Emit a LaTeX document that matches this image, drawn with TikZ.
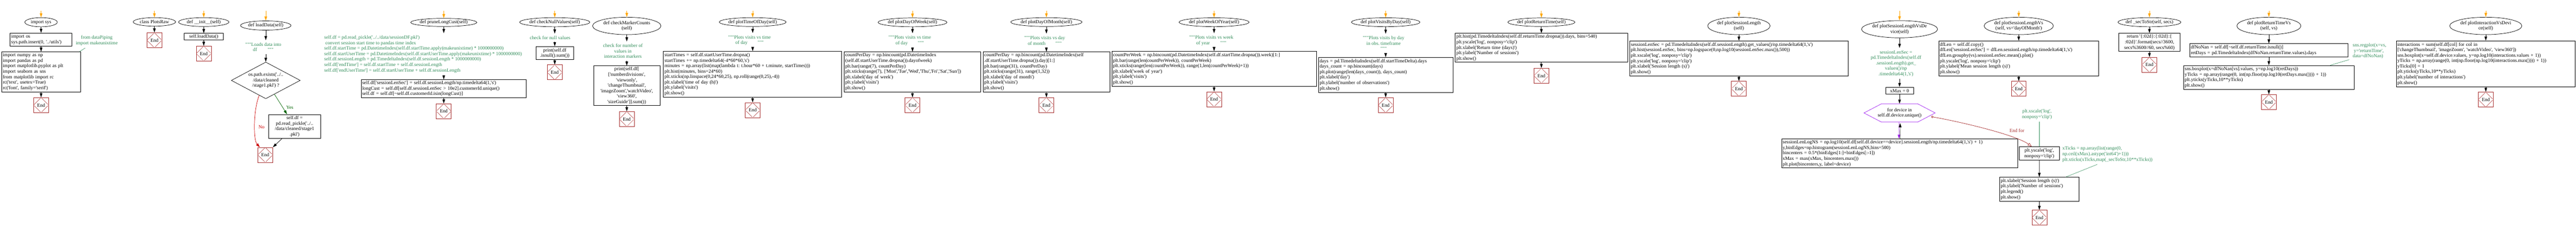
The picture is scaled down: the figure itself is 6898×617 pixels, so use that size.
\documentclass[tikz,border=0pt]{standalone}
\usepackage{fontspec}
\newfontfamily\codefont{Liberation Serif}
\usetikzlibrary{positioning,shapes.geometric,arrows.meta,calc}
\definecolor{notegreen}{RGB}{46,139,87}
\definecolor{endred}{RGB}{165,42,42}
\definecolor{startorange}{RGB}{255,165,0}
\definecolor{yesgreen}{RGB}{0,100,0}
\definecolor{nored}{RGB}{204,0,0}
\definecolor{loopviolet}{RGB}{160,32,240}
\frenchspacing
\tikzset{
  every node/.style={font=\codefont\fontsize{13}{14.6}\selectfont},
  func/.style={draw, ellipse, inner xsep=-14pt, inner ysep=-3pt, align=center},
  codebox/.style={draw, inner xsep=3pt, inner ysep=0pt, align=left},
  midbox/.style={draw, inner sep=0pt, align=center},
  note/.style={text=notegreen, inner xsep=2pt, inner ysep=6pt, align=center},
  endbox/.style={draw=endred, minimum width=40pt, minimum height=40pt, inner sep=0pt,
    path picture={
      \draw[endred, line width=.7pt]
        ($(path picture bounding box.north)!.08!(path picture bounding box.west)$) -- ($(path picture bounding box.north)!.92!(path picture bounding box.west)$)
        ($(path picture bounding box.west)!.08!(path picture bounding box.south)$) -- ($(path picture bounding box.west)!.92!(path picture bounding box.south)$)
        ($(path picture bounding box.south)!.08!(path picture bounding box.east)$) -- ($(path picture bounding box.south)!.92!(path picture bounding box.east)$)
        ($(path picture bounding box.east)!.08!(path picture bounding box.north)$) -- ($(path picture bounding box.east)!.92!(path picture bounding box.north)$);
    }},
  arr/.style={-{Triangle[length=11pt,width=7pt]}},
  startarr/.style={arr, draw=startorange},
  noteline/.style={draw=notegreen, line width=.8pt},
  endfor/.style={{Circle[open,length=6pt,width=6pt]}-{Triangle[open,length=11pt,width=8pt]}, draw=endred}
}
\begin{document}
\begin{tikzpicture}[x=1pt, y=-1pt, line width=1pt]
        \useasboundingbox (0,0) rectangle (6898,617);
        \coordinate (a0) at (110, 29.5);
        \node[func, minimum width=87pt, minimum height=24.4pt] (a1) at (110, 59.4) {import sys};
        \node[codebox, text width=159.3pt, minimum height=34.7pt] (a2) at (110, 105.9) {import os\\sys.path.insert(0, '../utils')};
        \node[codebox, text width=205.3pt, minimum height=106.7pt] (a3) at (110, 192.3) {import numpy as np\\import pandas as pd\\import matplotlib.pyplot as plt\\import seaborn as sns\\from matplotlib import rc\\rc('text', usetex=True)\\rc('font', family='serif')};
        \node[endbox] (a4) at (110, 281.2) {End};
        \node[note] (a5) at (259, 108.6) {from dataPiping\\import makeunixtime};
        \draw[startarr] (a0) -- (a1);
        \draw[arr] (a1) -- (a2);
        \draw[arr] (a2) -- (a3);
        \draw[arr] (a3) -- (a4);
        \draw[noteline] (a5) -- ([xshift=-3.7pt]a3.north east);

        \coordinate (b0) at (413.5, 29.5);
        \node[func, minimum width=113.5pt, minimum height=22.8pt] (b1) at (413.5, 58.6) {class PlotsRaw};
        \node[endbox] (b2) at (413.5, 107.5) {End};
        \draw[startarr] (b0) -- (b1);
        \draw[arr] (b1) -- (b2);

        \coordinate (c0) at (545.6, 29.5);
        \node[func, minimum width=135pt, minimum height=23.6pt] (c1) at (545.6, 59) {def \_\_init\_\_(self)};
        \node[midbox, minimum width=104pt, minimum height=17.7pt] (c2) at (545.6, 98.2) {self.loadData()};
        \node[endbox] (c3) at (545.6, 143.3) {End};
        \draw[startarr] (c0) -- (c1);
        \draw[arr] (c1) -- (c2);
        \draw[arr] (c2) -- (c3);

        \coordinate (d0) at (711.7, 29.5);
        \node[func, minimum width=135.4pt, minimum height=24.8pt] (d1) at (711.7, 68.3) {def loadData(self)};
        \node[note] (d2) at (705, 126) {"""Loads data into\\df\hspace{28pt}"""};
        \node[diamond, draw, aspect=2, minimum width=184.6pt, minimum height=98pt, inner sep=0pt, align=center] (d3) at (711.7, 215.1) {os.path.exists('../..\\/data/cleaned\\/stage1.pkl') ?};
        \node[midbox, minimum width=139.5pt, minimum height=64.1pt] (d4) at (788.8, 338.3) {self.df =\\pd.read\_pickle('../..\\/data/cleaned/stage1\\.pkl')};
        \node[endbox] (d5) at (710.2, 414.4) {End};
        \draw[startarr] (d0) -- (d1);
        \draw[arr] (d1) -- (d1 |- d2.north);
        \draw[arr] (d1 |- d2.south) -- (d3);
        \draw[arr, yesgreen] ($(d3.south)!.25!(d3.east)$) -- node[pos=.65, right=6pt, text=yesgreen] {Yes} ([xshift=-20.2pt]d4.north);
        \draw[arr, nored] ($(d3.west)!.81!(d3.south)$) .. controls (678, 295) and (678, 375) .. node[pos=.55, right=6pt, text=nored] {No} ([xshift=-14.4pt]d5.north);
        \draw[arr] ([xshift=-33.8pt]d4.south) -- (d5.north east);

        \coordinate (e0) at (1188.3, 29.5);
        \node[func, minimum width=177pt, minimum height=21.6pt] (e1) at (1188.3, 60) {def pruneLongCust(self)};
        \node[note, align=left, anchor=west] (e2) at (865.8, 145) {self.df = pd.read\_pickle('../../data/sessionDF.pkl')\\\hspace*{3pt}convert session start time to pandas time index\\self.df.startTime = pd.DatetimeIndex(self.df.startTime.apply(makeunixtime) * 1000000000)\\self.df.startUserTime = pd.DatetimeIndex(self.df.startUserTime.apply(makeunixtime) * 1000000000)\\self.df.sessionLength = pd.TimedeltaIndex(self.df.sessionLength * 1000000000)\\self.df['endTime'] = self.df.startTime + self.df.sessionLength\\self.df['endUserTime'] = self.df.startUserTime + self.df.sessionLength};
        \node[codebox, text width=436.7pt, minimum height=47.6pt] (e3) at (1188.3, 237.1) {self.df['sessionLenSec'] = self.df.sessionLength/np.timedelta64(1,'s')\\longCust = self.df[self.df.sessionLenSec > 10e2].customerId.unique()\\self.df = self.df[\textasciitilde self.df.customerId.isin(longCust)]};
        \node[endbox] (e4) at (1188.3, 297.5) {End};
        \draw[startarr] (e0) -- (e1);
        \draw[arr] (e1) -- (e1 |- e2.north);
        \draw[arr] (e1 |- e2.south) -- (e3);
        \draw[arr] (e3) -- (e4);

        \coordinate (f0) at (1485.5, 29.5);
        \node[func, minimum width=188pt, minimum height=24.4pt] (f1) at (1485.5, 59.4) {def checkNullValues(self)};
        \node[note] (f2) at (1473, 101.1) {check for null values};
        \node[midbox, minimum width=101.4pt, minimum height=35.4pt] (f3) at (1485.5, 142.1) {print(self.df\\.isnull().sum())};
        \node[endbox] (f4) at (1485.5, 193.6) {End};
        \draw[startarr] (f0) -- (f1);
        \draw[arr] (f1) -- (f1 |- f2.north);
        \draw[arr] (f1 |- f2.south) -- (f3);
        \draw[arr] (f3) -- (f4);

        \coordinate (g0) at (1678.4, 29.5);
        \node[func, minimum width=183pt, minimum height=46.5pt] (g1) at (1678.4, 69.3) {def checkMarkerCounts\\(self)};
        \node[note] (g2) at (1668, 136.6) {check for number of\\values in\\interaction markers};
        \node[midbox, minimum width=178.3pt, minimum height=106.3pt] (g3) at (1678.4, 229.4) {print(self.df[\\{}['numberdivisions',\\'viewonly',\\'changeThumbnail',\\'imageZoom','watchVideo',\\'view360',\\'sizeGuide']].sum())};
        \node[endbox] (g4) at (1678.4, 318.4) {End};
        \draw[startarr] (g0) -- (g1);
        \draw[arr] (g1) -- (g1 |- g2.north);
        \draw[arr] (g1 |- g2.south) -- (g3);
        \draw[arr] (g3) -- (g4);

        \coordinate (h0) at (2015.5, 29.5);
        \node[func, minimum width=179pt, minimum height=23.6pt] (h1) at (2015.5, 59) {def plotTimeOfDay(self)};
        \node[note] (h2) at (2007, 108.2) {"""Plots visits vs time\\of day\hspace{27pt}"""};
        \node[codebox, text width=471.2pt, minimum height=123.2pt] (h3) at (2015.1, 198.9) {startTimes = self.df.startUserTime.dropna()\\startTimes += np.timedelta64(-4*60*60,'s')\\minutes = np.array(list(map(lambda t: t.hour*60 + t.minute, startTimes)))\\plt.hist(minutes, bins=24*60)\\plt.xticks(np.linspace(0,24*60,25), np.roll(range(0,25),-4))\\plt.xlabel('time of day (h)')\\plt.ylabel('visits')\\plt.show()};
        \node[endbox] (h4) at (2015.5, 294.6) {End};
        \draw[startarr] (h0) -- (h1);
        \draw[arr] (h1) -- (h1 |- h2.north);
        \draw[arr] (h1 |- h2.south) -- (h3);
        \draw[arr] (h3) -- (h4);

        \coordinate (i0) at (2443.5, 29.5);
        \node[func, minimum width=184.5pt, minimum height=23.6pt] (i1) at (2443.5, 59.8) {def plotDayOfWeek(self)};
        \node[note] (i2) at (2436, 108.6) {"""Plots visits vs time\\of day\hspace{27pt}"""};
        \node[codebox, text width=359pt, minimum height=106.7pt] (i3) at (2443.1, 192.3) {countPerDay = np.bincount(pd.DatetimeIndex\\(self.df.startUserTime.dropna()).dayofweek)\\plt.bar(range(7), countPerDay)\\plt.xticks(range(7), ['Mon','Tue','Wed','Thu','Fri','Sat','Sun'])\\plt.xlabel('day of week')\\plt.ylabel('visits')\\plt.show()};
        \node[endbox] (i4) at (2443.5, 281.2) {End};
        \draw[startarr] (i0) -- (i1);
        \draw[arr] (i1) -- (i1 |- i2.north);
        \draw[arr] (i1 |- i2.south) -- (i3);
        \draw[arr] (i3) -- (i4);

        \coordinate (j0) at (2802, 29.5);
        \node[func, minimum width=191pt, minimum height=23.6pt] (j1) at (2802, 59) {def plotDayOfMonth(self)};
        \node[note] (j2) at (2797.4, 108.6) {"""Plots visits vs day\\of month\hspace{27pt}"""};
        \node[codebox, text width=333.3pt, minimum height=106.7pt] (j3) at (2802.2, 192.3) {countPerDay = np.bincount(pd.DatetimeIndex(self\\.df.startUserTime.dropna()).day)[1:]\\plt.bar(range(31), countPerDay)\\plt.xticks(range(31), range(1,32))\\plt.xlabel('day of month')\\plt.ylabel('visits')\\plt.show()};
        \node[endbox] (j4) at (2802, 281.2) {End};
        \draw[startarr] (j0) -- (j1);
        \draw[arr] (j1) -- (j1 |- j2.north);
        \draw[arr] (j1 |- j2.south) -- (j3);
        \draw[arr] (j3) -- (j4);

        \coordinate (k0) at (3251, 29.5);
        \node[func, minimum width=187.5pt, minimum height=23.7pt] (k1) at (3251, 59.4) {def plotWeekOfYear(self)};
        \node[note] (k2) at (3243.5, 108.6) {"""Plots visits vs week\\of year\hspace{28pt}"""};
        \node[codebox, text width=541.1pt, minimum height=94.1pt] (k3) at (3251.2, 184.4) {countPerWeek = np.bincount(pd.DatetimeIndex(self.df.startTime.dropna()).week)[1:]\\plt.bar(range(len(countPerWeek)), countPerWeek)\\plt.xticks(range(len(countPerWeek)), range(1,len(countPerWeek)+1))\\plt.xlabel('week of year')\\plt.ylabel('visits')\\plt.show()};
        \node[endbox] (k4) at (3251, 265.5) {End};
        \draw[startarr] (k0) -- (k1);
        \draw[arr] (k1) -- (k1 |- k2.north);
        \draw[arr] (k1 |- k2.south) -- (k3);
        \draw[arr] (k3) -- (k4);

        \coordinate (l0) at (3710.5, 29.5);
        \node[func, minimum width=183.6pt, minimum height=23.7pt] (l1) at (3710.5, 59.4) {def plotVisitsByDay(self)};
        \node[note] (l2) at (3705, 116) {"""Plots visits by day\\in obs. timeframe\\"""};
        \node[codebox, text width=354pt, minimum height=94pt] (l3) at (3710.5, 200.5) {days = pd.TimedeltaIndex(self.df.startTimeDelta).days\\days\_count = np.bincount(days)\\plt.plot(range(len(days\_count)), days\_count)\\plt.xlabel('day')\\plt.ylabel('number of observations')\\plt.show()};
        \node[endbox] (l4) at (3710.5, 281.2) {End};
        \draw[startarr] (l0) -- (l1);
        \draw[arr] (l1) -- (l1 |- l2.north);
        \draw[arr] (l1 |- l2.south) -- (l3);
        \draw[arr] (l3) -- (l4);

        \coordinate (m0) at (4127.5, 29.5);
        \node[func, minimum width=179.8pt, minimum height=22.8pt] (m1) at (4127.5, 59.4) {def plotReturnTime(self)};
        \node[codebox, text width=455.4pt, minimum height=77.2pt] (m2) at (4127.5, 127.9) {plt.hist(pd.TimedeltaIndex(self.df.returnTime.dropna()).days, bins=540)\\plt.yscale('log', nonposy='clip')\\plt.xlabel('Return time (days)')\\plt.ylabel('Number of sessions')\\plt.show()};
        \node[endbox] (m3) at (4127.5, 202.5) {End};
        \draw[startarr] (m0) -- (m1);
        \draw[arr] (m1) -- (m2);
        \draw[arr] (m2) -- (m3);

        \coordinate (n0) at (4656.4, 29.5);
        \node[func, minimum width=167pt, minimum height=46.5pt] (n1) at (4656.4, 69.3) {def plotSessionLength\\(self)};
        \node[codebox, text width=578.3pt, minimum height=94.1pt] (n2) at (4656.4, 156.5) {sessionLenSec = pd.TimedeltaIndex(self.df.sessionLength).get\_values()/np.timedelta64(1,'s')\\plt.hist(sessionLenSec, bins=np.logspace(0,np.log10(sessionLenSec.max()),500))\\plt.xscale('log', nonposy='clip')\\plt.yscale('log', nonposy='clip')\\plt.xlabel('Session length (s)')\\plt.show()};
        \node[endbox] (n3) at (4656.4, 237.5) {End};
        \draw[startarr] (n0) -- (n1);
        \draw[arr] (n1) -- (n2);
        \draw[arr] (n2) -- (n3);

        \coordinate (o0) at (5086.6, 29.5);
        \node[func, minimum width=203.6pt, minimum height=46pt] (o1) at (5086.6, 78.1) {def plotSessionLengthVsDe\\vice(self)};
        \node[note] (o2) at (5077, 169.8) {sessionLenSec =\\pd.TimedeltaIndex(self.df\\.sessionLength).get\_\\values()/np\\.timedelta64(1,'s')};
        \node[midbox, minimum width=74.6pt, minimum height=18.9pt] (o3) at (5086.6, 242.8) {xMax = 0};
        \node[minimum width=189.8pt, minimum height=48.1pt, inner sep=0pt, align=center] (o4) at (5086.6, 302.2) {for device in\\self.df.device.unique()};
        \node[codebox, text width=626pt, minimum height=77.5pt] (o5) at (5086.5, 410.7) {sessionLenLogNS = np.log10(self.df[self.df.device==device].sessionLength/np.timedelta64(1,'s') + 1)\\y,binEdges=np.histogram(sessionLenLogNS,bins=500)\\bincenters = 0.5*(binEdges[1:]+binEdges[:-1])\\xMax = max(xMax, bincenters.max())\\plt.plot(bincenters,y, label=device)};
        \node[note] (o6) at (5454.5, 305.6) {plt.xscale('log',\\nonposy='clip')};
        \node[midbox, minimum width=107.2pt, minimum height=35.8pt] (o7) at (5460.7, 410.7) {plt.yscale('log',\\nonposy='clip')};
        \node[note, align=left, anchor=west] (o8) at (5520.1, 412.8) {xTicks = np.array(list(range(0,\\np.ceil(xMax).astype('int64')+1)))\\plt.xticks(xTicks,map(\_secToStr,10**xTicks))};
        \node[codebox, text width=207.2pt, minimum height=64.2pt] (o9) at (5460.9, 506.3) {plt.xlabel('Session length (s)')\\plt.ylabel('Number of sessions')\\plt.legend()\\plt.show()};
        \node[endbox] (o10) at (5460.9, 582.5) {End};
        \draw[loopviolet] (o4.west) -- ([xshift=47.1pt]o4.north west) -- ([xshift=-47.1pt]o4.north east) -- (o4.east) -- ([xshift=-47.1pt]o4.south east) -- ([xshift=47.1pt]o4.south west) -- cycle;
        \draw[startarr] (o0) -- (o1);
        \draw[arr] (o1) -- (o1 |- o2.north);
        \draw[arr] (o1 |- o2.south) -- (o3);
        \draw[arr] (o3) -- (o4);
        \draw[arr, loopviolet] ([xshift=-1.5pt]o4.south) -- ([xshift=-1.5pt]o5.north);
        \draw[arr] ([xshift=1.5pt]o5.north) -- ([xshift=1.5pt, yshift=-2.7pt]o4.south);
        \draw[endfor] ([xshift=-10.7pt, yshift=-9.9pt]o4.east) .. controls (5260, 328) and (5400, 362) .. node[pos=.78, above=14pt, text=endred] {End for} ([xshift=-20pt]o7.north);
        \draw[noteline] (o7 |- o6.south) -- (o7);
        \draw[arr] (o7) -- (o9);
        \draw[noteline] ([xshift=-27pt]o8.south) -- ([xshift=-36.5pt]o9.north east);
        \draw[arr] (o9) -- (o10);

        \coordinate (p0) at (5405.7, 29.5);
        \node[func, minimum width=185.3pt, minimum height=46.5pt] (p1) at (5405.7, 69.3) {def plotSessionLengthVs\\(self, vs='dayOfMonth')};
        \node[codebox, text width=423pt, minimum height=94.1pt] (p2) at (5405.7, 156.5) {dfLen = self.df.copy()\\dfLen['sessionLenSec'] = dfLen.sessionLength/np.timedelta64(1,'s')\\dfLen.groupby(vs).sessionLenSec.mean().plot()\\plt.yscale('log', nonposy='clip')\\plt.ylabel('Mean session length (s)')\\plt.show()};
        \node[endbox] (p3) at (5405.7, 237.5) {End};
        \draw[startarr] (p0) -- (p1);
        \draw[arr] (p1) -- (p2);
        \draw[arr] (p2) -- (p3);

        \coordinate (q0) at (5755.7, 29.5);
        \node[func, minimum width=168.6pt, minimum height=24.4pt] (q1) at (5755.7, 59.4) {def \_secToStr(self, secs)};
        \node[midbox, minimum width=165pt, minimum height=48.4pt] (q2) at (5755.7, 113.5) {return '\{:02d\}:\{:02d\}:\{\\:02d\}'.format(secs//3600,\\secs\%3600//60, secs\%60)};
        \node[endbox] (q3) at (5755.7, 173.5) {End};
        \draw[startarr] (q0) -- (q1);
        \draw[arr] (q1) -- (q2);
        \draw[arr] (q2) -- (q3);

        \coordinate (r0) at (6075.5, 29.5);
        \node[func, minimum width=171.4pt, minimum height=46.5pt] (r1) at (6075.5, 69.3) {def plotReturnTimeVs\\(self, vs)};
        \node[codebox, text width=418.3pt, minimum height=35.8pt] (r2) at (6075.5, 134.8) {dfNoNan = self.df[\textasciitilde self.df.returnTime.isnull()]\\retDays = pd.TimedeltaIndex(dfNoNan.returnTime.values).days};
        \node[codebox, text width=450.5pt, minimum height=64.2pt] (r3) at (6075.5, 207.2) {sns.boxplot(x=dfNoNan[vs].values, y=np.log10(retDays))\\yTicks = np.array(range(0, int(np.floor(np.log10(retDays.max()))) + 1))\\plt.yticks(yTicks,10**yTicks)\\plt.show()};
        \node[endbox] (r4) at (6075.5, 273.1) {End};
        \node[note, align=left, anchor=west] (r5) at (6297.6, 136.6) {sns.regplot(x=vs,\\\hspace*{3pt}y='returnTime',\\data=dfNoNan)};
        \draw[startarr] (r0) -- (r1);
        \draw[arr] (r1) -- (r2);
        \draw[arr] (r2) -- (r3);
        \draw[arr] (r3) -- (r4);
        \draw[noteline] ([xshift=-7pt, yshift=4pt]r5.south west) -- ([xshift=-64.3pt]r3.north east);

        \coordinate (s0) at (6656.4, 29.5);
        \node[func, minimum width=193.2pt, minimum height=46.5pt] (s1) at (6656.4, 69.3) {def plotInteractionVsDevi\\ce(self)};
        \node[codebox, text width=473.7pt, minimum height=122.8pt] (s2) at (6656.4, 170.8) {interactions = sum(self.df[col] for col in\\{}['changeThumbnail', 'imageZoom', 'watchVideo', 'view360'])\\sns.boxplot(x=self.df.device.values, y=np.log10(interactions.values + 1))\\yTicks = np.array(range(0, int(np.floor(np.log10(interactions.max()))) + 1))\\yTicks[0] = 1\\plt.yticks(yTicks,10**yTicks)\\plt.ylabel('number of interactions')\\plt.show()};
        \node[endbox] (s3) at (6656.4, 266.4) {End};
        \draw[startarr] (s0) -- (s1);
        \draw[arr] (s1) -- (s2);
        \draw[arr] (s2) -- (s3);
\end{tikzpicture}
\end{document}
